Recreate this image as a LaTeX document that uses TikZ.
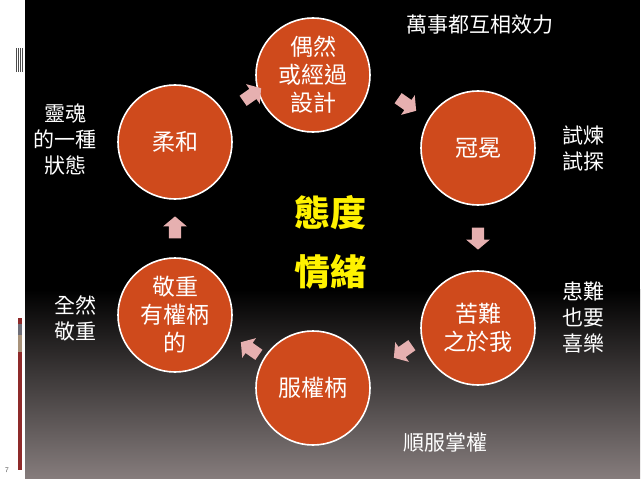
\documentclass[tikz,border=0pt]{standalone}
\usepackage{fontspec}
\newfontfamily\cjk{Noto Sans CJK TC}
\usetikzlibrary{shapes.arrows,shadings}
\definecolor{circfill}{HTML}{CF4A1C}
\definecolor{arr}{HTML}{E6B0B0}
\definecolor{barred}{HTML}{8E2A2A}
\definecolor{bargray}{HTML}{6E6E78}
\definecolor{bartan}{HTML}{A8927A}
\definecolor{botgray}{HTML}{857C7C}
\tikzset{
  circ/.style={circle,draw=white,line width=1.6pt,fill=circfill,minimum size=114pt,inner sep=0pt,align=center,text=white,font=\cjk\fontsize{23}{28}\selectfont},
  lbl/.style={text=white,align=center,font=\cjk\fontsize{21}{26}\selectfont},
  blk/.style={single arrow,fill=arr,minimum height=22pt,minimum width=24pt,single arrow head extend=3pt,single arrow tip angle=100,inner sep=3pt},
  ctr/.style={text=yellow,font=\cjk\bfseries\fontsize{36}{42}\selectfont}
}
\begin{document}
\begin{tikzpicture}[x=1pt,y=-1pt]
\useasboundingbox (0,0) rectangle (644,484);
\fill[white] (0,0) rectangle (644,484);
\fill[black] (25,0) rectangle (640,290);
\shade[top color=black,bottom color=botgray] (25,289.5) rectangle (640,478);
% left decorations
\foreach \x in {16,18,20,22}{\fill[black!70] (\x,48) rectangle ++(1,24);}
\fill[barred] (18,318) rectangle (22,324);
\fill[bargray] (18,324) rectangle (22,335);
\fill[bartan] (18,335) rectangle (22,352);
\fill[barred] (18,352) rectangle (22,470);
\node[font=\sffamily\scriptsize,text=black!70] (pg) at (7,470) {7};
% circles
\node[circ] (c1) at (313,75) {偶然\\或經過\\設計};
\node[circ] (c2) at (478,148) {冠冕};
\node[circ] (c3) at (478,328) {苦難\\之於我};
\node[circ] (c4) at (313,388) {服權柄};
\node[circ] (c5) at (175,315) {敬重\\有權柄\\的};
\node[circ] (c6) at (175,142) {柔和};
% arrows
\node[blk,rotate=35] (a1) at (250,96) {};
\node[blk,rotate=-35] (a2) at (405,103) {};
\node[blk,rotate=-90] (a3) at (478,236) {};
\node[blk,rotate=-145] (a4) at (405,350) {};
\node[blk,rotate=145] (a5) at (252,350) {};
\node[blk,rotate=90] (a6) at (175,230) {};
% center
\node[ctr] (t1) at (330,213) {態度};
\node[ctr] (t2) at (330,272) {情緒};
% labels
\node[lbl] (l1) at (480,25) {萬事都互相效力};
\node[lbl] (l2) at (583,148) {試煉\\試探};
\node[lbl] (l3) at (583,318) {患難\\也要\\喜樂};
\node[lbl] (l4) at (445,443) {順服掌權};
\node[lbl] (l5) at (75,318) {全然\\敬重};
\node[lbl] (l6) at (65,140) {靈魂\\的一種\\狀態};
\end{tikzpicture}
\end{document}
